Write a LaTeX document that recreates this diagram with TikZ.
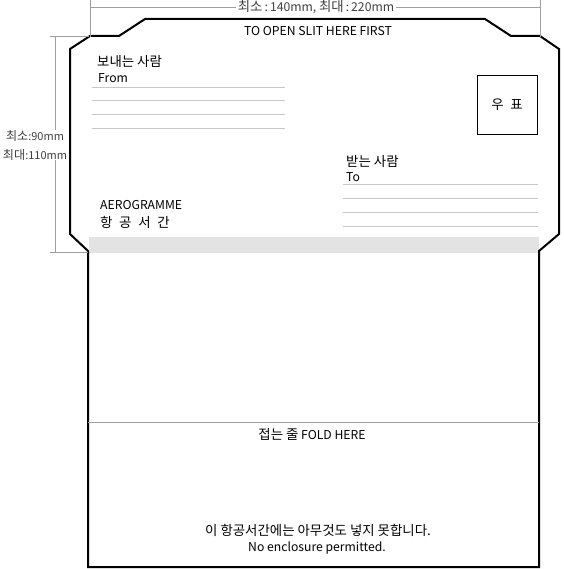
\documentclass[tikz,border=0pt]{standalone}
\usepackage{fontspec}
\setmainfont{Noto Sans CJK KR}
\newfontfamily\krfont{Noto Sans CJK KR}[Scale=1.1]
\usetikzlibrary{positioning}
\definecolor{dimgray}{gray}{0.62}
\definecolor{bandgray}{gray}{0.89}
\definecolor{linegray}{gray}{0.78}
\newcommand{\kr}[1]{{\krfont #1}}
\tikzset{
  txt/.style={inner sep=0pt, font=\fontsize{12.2}{14}\selectfont},
  dimtxt/.style={txt, text=black!75, fill=white, inner sep=1.5pt},
  dimline/.style={draw=dimgray, line width=0.9pt},
  addrline/.style={draw=linegray, line width=0.9pt},
  outline/.style={draw=black, line width=2pt, line join=miter},
}

\begin{document}
\begin{tikzpicture}[x=1pt,y=-1pt]
    \useasboundingbox (0,0) rectangle (563,569);

    % gray strip and envelope
    \fill[bandgray] (89,237) rectangle (539,253);
    \draw[outline] (145,19) -- (119,36) -- (90,36) -- (70,49) -- (70,234) -- (88,251) -- (88,567)
        -- (539,567) -- (539,251) -- (559,234) -- (559,49) -- (540,36) -- (511,36) -- (485,19) -- cycle;
    \draw[dimline] (88,422) -- (539,422);

    % size marks
    \draw[dimline] (90,0) -- (90,37);
    \draw[dimline] (540,0) -- (540,37);
    \draw[dimline] (50,36) -- (89,36);
    \draw[dimline] (50,252) -- (88,252);
    \coordinate (wl) at (90,7);
    \coordinate (wr) at (540,7);
    \coordinate (ht) at (55,36);
    \coordinate (hb) at (55,252);
    \node (wdim)[dimtxt] at (316,7) {\kr{최소}\,:\,140mm,\ \kr{최대}\,:\,220mm};
    \draw[dimline] (wl) -- (wdim);
    \draw[dimline] (wdim) -- (wr);
    \draw[dimline] (ht) -- (hb);
    \node (hdim)[dimtxt, inner sep=0.5pt, font=\fontsize{11}{19}\selectfont, align=center] at (35,145) {\kr{최소}:90mm\\\kr{최대}:110mm};

    % texts
    \node (slit)[txt] at (318,31) {TO OPEN SLIT HERE FIRST};
    \node (from)[txt, anchor=west] at (97,61) {\kr{보내는 사람}};
    \node (fromen)[txt, anchor=west] at (98,78) {From};
    \node (aero)[txt, anchor=west] at (100,205) {AEROGRAMME};
    \node (aerokr)[txt, anchor=west] at (100,222) {\kr{항\enspace 공\enspace 서\enspace 간}};
    \node (to)[txt, anchor=west] at (346,161) {\kr{받는 사람}};
    \node (toen)[txt, anchor=west] at (346,177) {To};
    \node (stamp)[txt, draw = black, line width=0.9pt, minimum width=60, minimum height=59] at (507,104.5) {\kr{우\enspace 표}};
    \node (fold)[txt] at (312,434) {\kr{접는 줄} FOLD HERE};
    \node (note)[txt] at (318,530) {\kr{이 항공서간에는 아무것도 넣지 못합니다.}};
    \node (noteen)[txt] at (317,548) {No enclosure permitted.};

    % address lines
    \foreach \y in {87,100.5,114.5,128.5}
        \draw[addrline] (92,\y) -- (285,\y);
    \foreach \y in {184.5,198.5,212.5,226}
        \draw[addrline] (343,\y) -- (538,\y);
\end{tikzpicture}
\end{document}
